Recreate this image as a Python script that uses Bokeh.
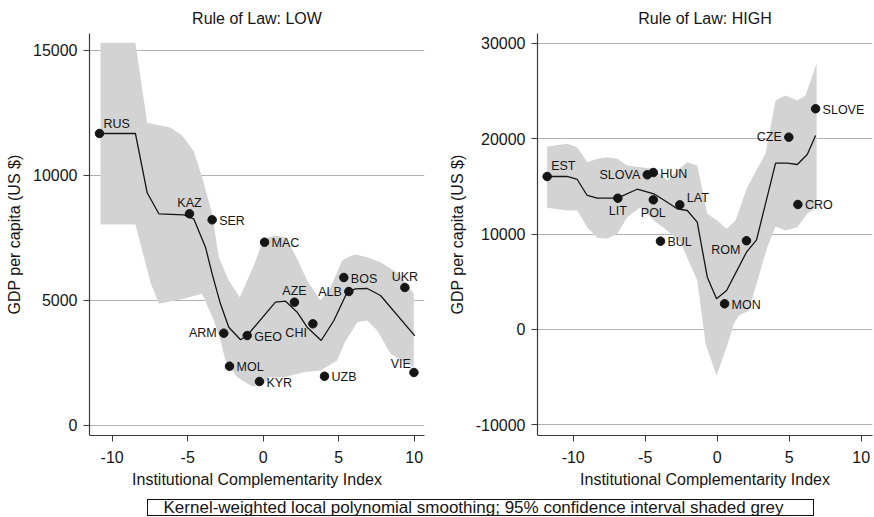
from bokeh.plotting import figure
from bokeh.layouts import column, row
from bokeh.models import Range1d, FixedTicker, ColumnDataSource, Div
from bokeh.embed import file_html
from bokeh.resources import INLINE
from bokeh.core.properties import value

FONT = "Liberation Sans"

# ---------------- data: Rule of Law LOW ----------------
low_names = ["RUS", "KAZ", "SER", "MAC", "ARM", "GEO", "CHI", "AZE", "ALB", "BOS", "UKR", "VIE", "MOL", "KYR", "UZB"]
low_x = [-10.84, -4.88, -3.38, 0.09, -2.61, -1.06, 3.29, 2.07, 5.67, 5.34, 9.38, 9.98, -2.23, -0.25, 4.06]
low_y = [11660, 8448, 8208, 7312, 3672, 3580, 4048, 4912, 5340, 5900, 5500, 2100, 2352, 1740, 1952]

low_fit_x = [-10.84, -8.46, -7.68, -6.91, -5.26, -4.60, -3.82, -3.38, -2.83, -2.28, -1.50, -1.06,
             0.81, 1.48, 2.25, 2.91, 3.84, 4.68, 5.56, 6.11, 6.89, 7.77, 10.04]
low_fit_y = [11660, 11660, 9288, 8448, 8408, 8248, 7112, 6048, 4848, 3912, 3408, 3580,
             4912, 4952, 4512, 3912, 3380, 4180, 5312, 5448, 5460, 5180, 3568]

low_hi_x = [-10.77, -8.46, -7.68, -6.14, -5.36, -4.60, -4.04, -3.38, -2.94, -2.28, -1.55, -0.62,
            0.04, 0.75, 1.48, 2.25, 2.91, 3.79, 4.46, 5.23, 5.78, 6.11, 6.89, 7.77, 8.98, 9.97]
low_hi_y = [15290, 15290, 12088, 11900, 11580, 10952, 9900, 8448, 6712, 5780, 5112, 6380,
            7448, 7580, 7512, 6648, 5780, 4980, 5512, 6580, 6760, 6820, 6712, 6512, 6048, 5248]

low_lo_x = [-10.77, -8.46, -7.46, -6.91, -5.26, -4.04, -3.27, -2.83, -2.50, -1.72, -0.73, 0.04,
            0.37, 1.36, 2.69, 3.79, 4.90, 5.40, 6.23, 6.89, 7.55, 8.43, 9.97]
low_lo_y = [8020, 8020, 5700, 4848, 5048, 5248, 4180, 3380, 2580, 1912, 1540, 1620,
            1912, 1912, 2112, 2180, 2580, 3300, 4112, 4180, 3780, 2848, 2312]

# ---------------- data: Rule of Law HIGH ----------------
high_names = ["EST", "LIT", "SLOVA", "HUN", "POL", "LAT", "BUL", "ROM", "MON", "CZE", "SLOVE", "CRO"]
high_x = [-11.81, -6.90, -4.86, -4.44, -4.44, -2.60, -3.94, 2.03, 0.51, 4.97, 6.83, 5.60]
high_y = [16035, 13760, 16212, 16450, 13590, 13065, 9255, 9300, 2690, 20155, 23130, 13100]

high_fit_x = [-11.81, -10.42, -9.72, -9.03, -8.33, -6.94, -5.56, -4.40, -3.47, -2.78, -2.08, -1.39,
              -0.69, -0.05, 0.65, 2.03, 2.73, 4.05, 4.86, 5.56, 6.25, 6.83]
high_fit_y = [16035, 16035, 15720, 14043, 13760, 13760, 14700, 14220, 13340, 12650, 12470, 11245,
              5480, 3217, 4090, 8100, 9400, 17430, 17430, 17290, 18340, 20330]

high_hi_x = [-11.81, -10.42, -9.72, -9.03, -8.33, -7.64, -6.94, -6.25, -5.33, -4.40, -3.47, -3.01,
             -2.08, -1.39, -0.69, 0.00, 0.65, 1.27, 2.08, 3.35, 4.05, 4.74, 5.56, 6.13, 6.90]
high_hi_y = [19180, 19460, 19100, 17530, 17890, 18060, 17890, 17190, 17010, 16840, 15620, 16320,
             17530, 17190, 12130, 11420, 10550, 11420, 14910, 18410, 24000, 24520, 24000, 24520, 27910]

high_lo_x = [-11.81, -10.42, -9.72, -9.03, -8.33, -7.64, -6.94, -6.25, -5.33, -4.40, -3.47, -2.55,
             -1.39, -0.81, -0.05, 0.65, 1.15, 1.50, 2.20, 2.66, 3.47, 4.05, 4.74, 5.56, 6.25, 6.90]
high_lo_y = [12750, 12470, 12470, 10720, 9610, 9505, 10030, 11770, 12820, 11420, 10380, 9150,
             5130, -1500, -4820, -1855, 600, 1470, 1990, 4430, 8625, 10790, 10375, 10720, 12125, 12820]

low_x_ticks = [-10, -5, 0, 5, 10]
low_y_ticks = [0, 5000, 10000, 15000]
high_x_ticks = [-10, -5, 0, 5, 10]
high_y_ticks = [-10000, 0, 10000, 20000, 30000]

# ---------------- styles ----------------
# marker label placement as clock positions (style, not data)
low_label_pos = [1, 12, 3, 3, 9, 3, 8, 12, 9, 3, 12, 11, 3, 3, 3]
high_label_pos = [1, 6, 9, 3, 6, 2, 3, 8, 3, 9, 3, 3]
CLOCK = {
    1: (4, -10, "left"),
    2: (7, -7, "left"),
    3: (7, 1, "left"),
    6: (0, 13, "center"),
    8: (-6, 9, "right"),
    9: (-7, 0, "right"),
    11: (-3, -9, "right"),
    12: (0, -11, "center"),
}

BAND = "#d3d3d3"
GRID = "#b2b2b2"
AXIS = "#3a3a3a"
INK = "#151515"


def hyphen_labels(ticks):
    return {t: str(t) for t in ticks}


def make_panel(title, xs, ys, names, pos, fx, fy, hx, hy, lx, ly, xr, yr, xt, yt, border_left, border_right):
    p = figure(frame_width=335, frame_height=402,
               x_range=Range1d(*xr), y_range=Range1d(*yr),
               output_backend="svg", toolbar_location=None,
               min_border_left=border_left, min_border_right=border_right,
               min_border_top=33, min_border_bottom=57,
               title=title)
    p.outline_line_color = None
    p.background_fill_color = "white"
    p.border_fill_color = "white"

    p.title.align = "center"
    p.title.vertical_align = "top"
    p.title.text_font = FONT
    p.title.text_font_size = "16px"
    p.title.text_font_style = "normal"
    p.title.text_color = INK

    # confidence band
    p.patch(hx + lx[::-1], hy + ly[::-1], fill_color=BAND, line_color=None)
    # smooth fit
    p.line(fx, fy, line_color=INK, line_width=1.3)
    # points
    p.scatter(xs, ys, size=8.5, fill_color=INK, line_color=INK)

    src = ColumnDataSource(dict(
        x=xs, y=ys, text=names,
        dx=[CLOCK[k][0] for k in pos],
        dy=[CLOCK[k][1] for k in pos],
        align=[CLOCK[k][2] for k in pos],
    ))
    p.text(x="x", y="y", text="text", source=src, x_offset="dx", y_offset="dy",
           text_align="align", text_baseline="middle",
           text_font=value(FONT), text_font_size="12.5px", text_color=INK)

    for ax in (p.xaxis[0], p.yaxis[0]):
        ax.axis_line_color = AXIS
        ax.axis_line_width = 1.2
        ax.major_tick_line_color = AXIS
        ax.major_tick_out = 6
        ax.major_tick_in = 0
        ax.minor_tick_line_color = None
        ax.major_label_text_font = FONT
        ax.major_label_text_font_size = "16px"
        ax.major_label_text_color = INK
        ax.axis_label_text_font = FONT
        ax.axis_label_text_font_size = "16px"
        ax.axis_label_text_font_style = "normal"
        ax.axis_label_text_color = INK

    p.xaxis.ticker = FixedTicker(ticks=xt)
    p.yaxis.ticker = FixedTicker(ticks=yt)
    p.xaxis.major_label_overrides = hyphen_labels(xt)
    p.yaxis.major_label_overrides = hyphen_labels(yt)
    p.xaxis.major_label_standoff = 9
    p.yaxis.major_label_standoff = 6
    p.xaxis.axis_label = "Institutional Complementarity Index"
    p.yaxis.axis_label = "GDP per capita (US $)"
    p.xaxis.axis_label_standoff = 5
    p.yaxis.axis_label_standoff = 7

    p.xgrid.visible = False
    p.ygrid.ticker = FixedTicker(ticks=yt)
    p.ygrid.grid_line_color = GRID
    p.ygrid.grid_line_width = 1
    return p


p1 = make_panel("Rule of Law: LOW", low_x, low_y, low_names, low_label_pos,
                low_fit_x, low_fit_y, low_hi_x, low_hi_y, low_lo_x, low_lo_y,
                (-11.50, 10.68), (-420, 15660), low_x_ticks, low_y_ticks, 89, 13)
p2 = make_panel("Rule of Law: HIGH", high_x, high_y, high_names, high_label_pos,
                high_fit_x, high_fit_y, high_hi_x, high_hi_y, high_lo_x, high_lo_y,
                (-12.48, 10.78), (-11110, 31020), high_x_ticks, high_y_ticks, 100, 2)

caption = Div(
    text="Kernel-weighted local polynomial smoothing; 95% confidence interval shaded grey",
    width=667, height=17, margin=(7, 0, 0, 147),
    styles={
        "border": "1px solid #111",
        "box-sizing": "border-box",
        "font-family": FONT,
        "font-size": "17px",
        "line-height": "15px",
        "text-align": "center",
        "padding-right": "14px",
        "color": INK,
        "background": "white",
        "overflow": "hidden",
        "white-space": "nowrap",
    },
)

layout = column(row(p1, p2, spacing=0), caption, spacing=0)

with open("out.html", "w") as f:
    f.write(file_html(layout, INLINE))
